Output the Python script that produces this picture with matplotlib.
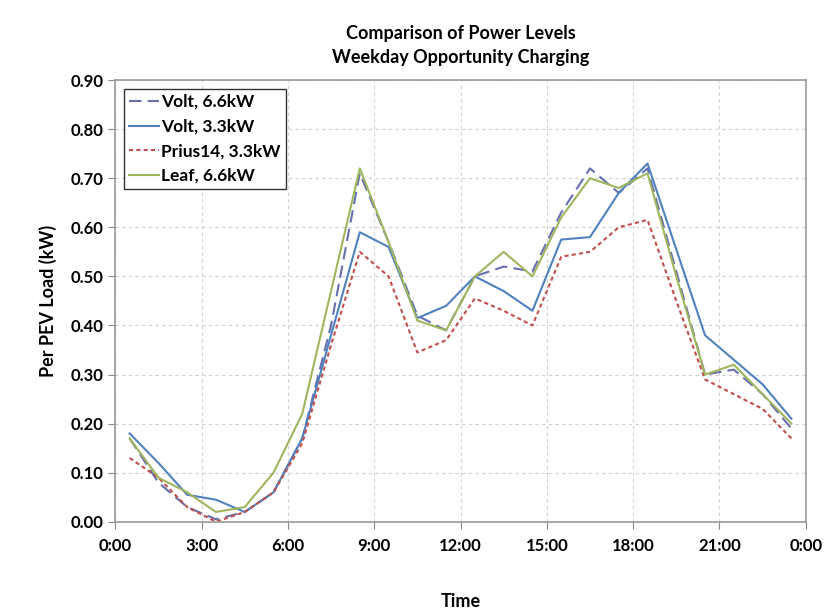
import numpy as np
import matplotlib
matplotlib.use("Agg")
import matplotlib.pyplot as plt
from matplotlib.ticker import FuncFormatter

plt.rcParams['font.family'] = ['Lato', 'DejaVu Sans']

# half-hour points, hours after midnight
hours = [0.5, 1.5, 2.5, 3.5, 4.5, 5.5, 6.5, 7.5, 8.5, 9.5, 10.5, 11.5,
         12.5, 13.5, 14.5, 15.5, 16.5, 17.5, 18.5, 19.5, 20.5, 21.5, 22.5, 23.5]

volt66 = [0.17, 0.08, 0.03, 0.005, 0.02, 0.06, 0.17, 0.40, 0.71, 0.57, 0.42, 0.39,
          0.50, 0.52, 0.51, 0.63, 0.72, 0.67, 0.72, 0.51, 0.30, 0.31, 0.26, 0.19]
volt33 = [0.18, 0.12, 0.055, 0.045, 0.02, 0.06, 0.17, 0.38, 0.59, 0.56, 0.415, 0.44,
          0.50, 0.47, 0.43, 0.575, 0.58, 0.67, 0.73, 0.555, 0.38, 0.33, 0.28, 0.21]
prius33 = [0.13, 0.09, 0.03, 0.00, 0.02, 0.06, 0.16, 0.36, 0.55, 0.50, 0.345, 0.37,
           0.455, 0.43, 0.40, 0.54, 0.55, 0.60, 0.615, 0.45, 0.29, 0.26, 0.23, 0.17]
leaf66 = [0.17, 0.09, 0.06, 0.02, 0.03, 0.10, 0.22, 0.47, 0.72, 0.57, 0.41, 0.39,
          0.50, 0.55, 0.50, 0.62, 0.70, 0.68, 0.71, 0.50, 0.30, 0.32, 0.26, 0.20]

xticks = [0, 3, 6, 9, 12, 15, 18, 21, 24]
xlabels = ['0:00', '3:00', '6:00', '9:00', '12:00', '15:00', '18:00', '21:00', '0:00']

fig = plt.figure(figsize=(8.35, 6.11), dpi=100)
ax = fig.add_axes([0.138, 0.146, 0.827, 0.723])

ax.plot(hours, volt66, color='#6670AE', linestyle=(0, (6, 3)), linewidth=1.5, label='Volt, 6.6kW')
ax.plot(hours, volt33, color='#4F81BD', linewidth=1.5, label='Volt, 3.3kW')
ax.plot(hours, prius33, color='#C0504D', linestyle=(0, (2, 1.5)), linewidth=1.5, label='Prius14, 3.3kW')
ax.plot(hours, leaf66, color='#9FB65E', linewidth=1.5, label='Leaf, 6.6kW')

ax.set_xlim(0, 24)
ax.set_ylim(0, 0.9)
ax.set_xticks(xticks)
ax.set_xticklabels(xlabels)
ax.set_yticks(np.arange(0, 0.91, 0.1))
ax.yaxis.set_major_formatter(FuncFormatter(lambda v, p: '%.2f' % v))
ax.grid(True, color='#D0D0D0', linestyle=(0, (3, 3)), linewidth=0.8)
ax.tick_params(direction='out', length=5, color='#888888', labelsize=12)
ax.tick_params(axis='x', pad=7)
for lab in ax.get_xticklabels() + ax.get_yticklabels():
    lab.set_fontweight('bold')
for s in ax.spines.values():
    s.set_color('#999999')
    s.set_linewidth(1.2)

ax.set_xlabel('Time', fontsize=13, fontweight='bold', labelpad=28)
ax.set_ylabel('Per PEV Load (kW)', fontsize=13, fontweight='bold', labelpad=10)
ax.set_title('Comparison of Power Levels\nWeekday Opportunity Charging', fontsize=13, fontweight='bold',
             pad=12, linespacing=1.5)

leg = ax.legend(loc='upper left', prop={'weight': 'bold', 'size': 12.5}, fancybox=False,
                framealpha=1, edgecolor='#333333', handlelength=1.7, handletextpad=0.15,
                borderaxespad=0.5, labelspacing=0.5, borderpad=0.3)
leg.get_frame().set_linewidth(1.0)

fig.savefig('out.png', dpi=100)
